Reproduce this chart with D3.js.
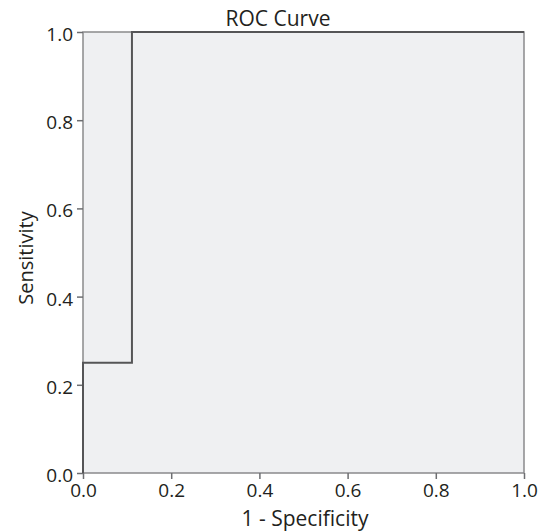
<!DOCTYPE html>
<html>
<head>
<meta charset="utf-8">
<script src="https://cdn.jsdelivr.net/npm/d3@7"></script>
<style>
  body { margin: 0; background: #fff; }
  text { font-family: "Open Sans", "DejaVu Sans", sans-serif; fill: #231f20; }
</style>
</head>
<body>
<script>
// ROC punten: 1 - specificity en sensitivity
var fpr = [0, 0, 0.111, 0.111, 1];
var tpr = [0, 0.25, 0.25, 1, 1];
var tickValues = [0, 0.2, 0.4, 0.6, 0.8, 1.0];

var margin = {top: 32, right: 18, bottom: 59, left: 83},
    width = 542 - margin.left - margin.right,
    height = 532 - margin.top - margin.bottom;

var svg = d3.select("body")
            .append("svg")
            .attr("width", 542)
            .attr("height", 532);

var g = svg.append("g")
           .attr("transform", "translate(" + margin.left + "," + margin.top + ")");

var x = d3.scaleLinear().domain([0, 1]).range([0, width]);
var y = d3.scaleLinear().domain([0, 1]).range([height, 0]);

// achtergrond en kader
g.append("rect")
  .attr("width", width)
  .attr("height", height)
  .style("fill", "#eff0f2")
  .style("stroke", "#8a8a8c")
  .style("stroke-width", 1.5);

// assen
var xAxis = d3.axisBottom(x).tickValues(tickValues).tickFormat(d3.format(".1f")).tickSize(6).tickPadding(5);
var yAxis = d3.axisLeft(y).tickValues(tickValues).tickFormat(d3.format(".1f")).tickSize(6).tickPadding(4);

var gx = g.append("g")
  .attr("transform", "translate(0," + height + ")")
  .call(xAxis);
var gy = g.append("g").call(yAxis);

[gx, gy].forEach(function(ax) {
  ax.select(".domain").remove();
  ax.selectAll("line").style("stroke", "#6d6e71").style("stroke-width", 1.5);
  ax.selectAll("text").style("font-size", "19px").style("fill", "#231f20");
});
gy.selectAll("text").attr("dy", "0.45em");

// ROC lijn
var line = d3.line()
  .x(function(d, i) { return x(fpr[i]); })
  .y(function(d, i) { return y(tpr[i]); });

g.append("path")
  .datum(fpr)
  .attr("d", line)
  .style("fill", "none")
  .style("stroke", "#555557")
  .style("stroke-width", 2);

// titels
svg.append("text")
  .attr("x", 278)
  .attr("y", 26)
  .attr("text-anchor", "middle")
  .style("font-size", "21px")
  .text("ROC Curve");

svg.append("text")
  .attr("x", 305)
  .attr("y", 526)
  .attr("text-anchor", "middle")
  .style("font-size", "21px")
  .text("1 - Specificity");

svg.append("text")
  .attr("transform", "rotate(-90)")
  .attr("x", -258)
  .attr("y", 33)
  .attr("text-anchor", "middle")
  .style("font-size", "20px")
  .text("Sensitivity");
</script>
</body>
</html>
